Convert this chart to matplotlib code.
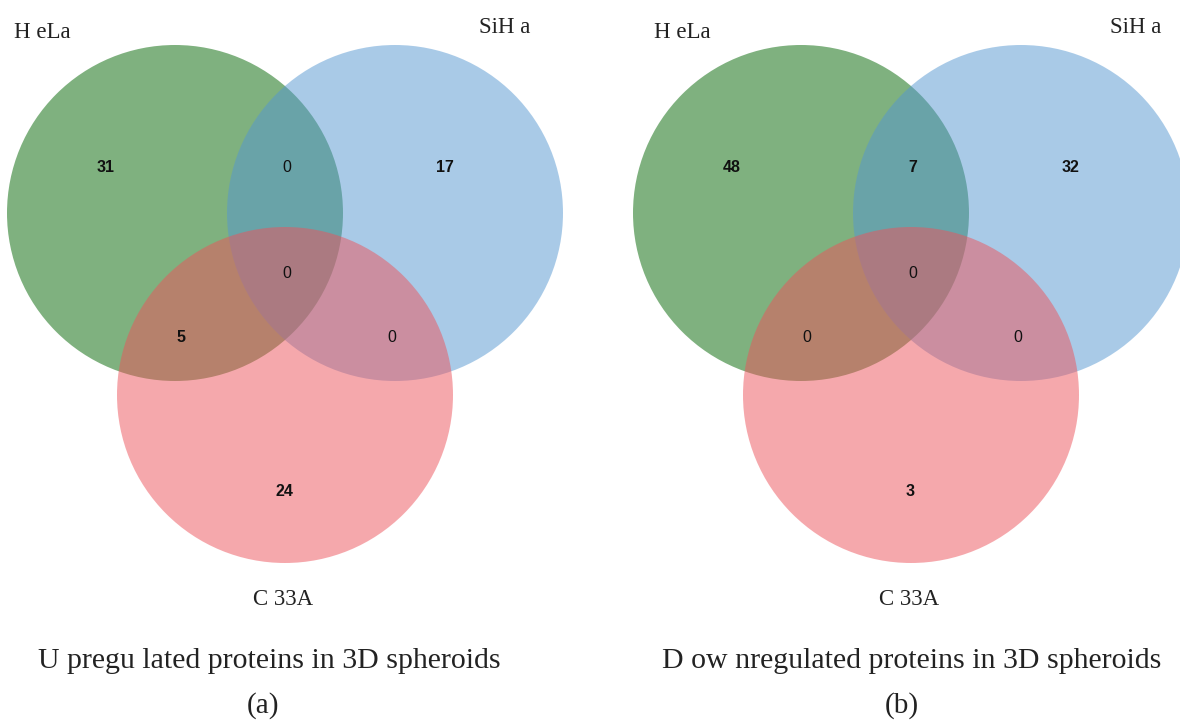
import matplotlib
matplotlib.use("Agg")
import matplotlib.pyplot as plt
from matplotlib.patches import Circle

# ---- data ----
set_names = ["H eLa", "SiH a", "C 33A"]
region_keys = ["A", "AB", "B", "ABC", "AC", "BC", "C"]
up_counts = [31, 0, 17, 0, 5, 0, 24]
down_counts = [48, 7, 32, 0, 0, 0, 3]
titles = ["U pregu lated proteins in 3D spheroids", "D ow nregulated proteins in 3D spheroids"]
panel_tags = ["(a)", "(b)"]

# ---- style / layout ----
colors = ["#006500", "#5597d1", "#ed535b"]
alpha = 0.5
R = 168
centers = [(175, 213), (395, 213), (285, 395)]
label_pos = {"A": (106, 168), "AB": (287, 168), "B": (445, 168), "ABC": (287, 274),
             "AC": (181, 337), "BC": (392, 337), "C": (284, 492)}
offset = 626

fig = plt.figure(figsize=(11.8, 7.2), dpi=100)
ax = fig.add_axes([0, 0, 1, 1])
ax.set_xlim(0, 1180)
ax.set_ylim(720, 0)
ax.axis("off")

serif = ["Liberation Serif", "DejaVu Serif"]
sans = ["Liberation Sans", "DejaVu Sans"]
tc = "#222222"

panels = [(0, up_counts, titles[0], panel_tags[0], 269, 263, (14, 530)),
          (offset, down_counts, titles[1], panel_tags[1], 912, 902, (654, 1161))]

for dx, counts, title, tag, tx, tagx, (lx, rx) in panels:
    for (cx, cy), col in zip(centers, colors):
        ax.add_patch(Circle((cx + dx, cy), R, facecolor=col, alpha=alpha, edgecolor="none"))
    for key, val in zip(region_keys, counts):
        x, y = label_pos[key]
        ax.text(x + dx, y, str(val), ha="center", va="center", fontsize=11.5,
                family=sans, fontweight="bold" if val != 0 else "normal", color="#111111")
    ax.text(lx, 38, set_names[0], ha="left", va="baseline", fontsize=16.5, family=serif, color=tc)
    ax.text(rx, 33, set_names[1], ha="right", va="baseline", fontsize=16.5, family=serif, color=tc)
    ax.text(283 + dx, 605, set_names[2], ha="center", va="baseline", fontsize=16.5, family=serif, color=tc)
    ax.text(tx, 668, title, ha="center", va="baseline", fontsize=21.5, family=serif, color=tc)
    ax.text(tagx, 713, tag, ha="center", va="baseline", fontsize=21, family=serif, color=tc)

fig.savefig("out.png", dpi=100)
